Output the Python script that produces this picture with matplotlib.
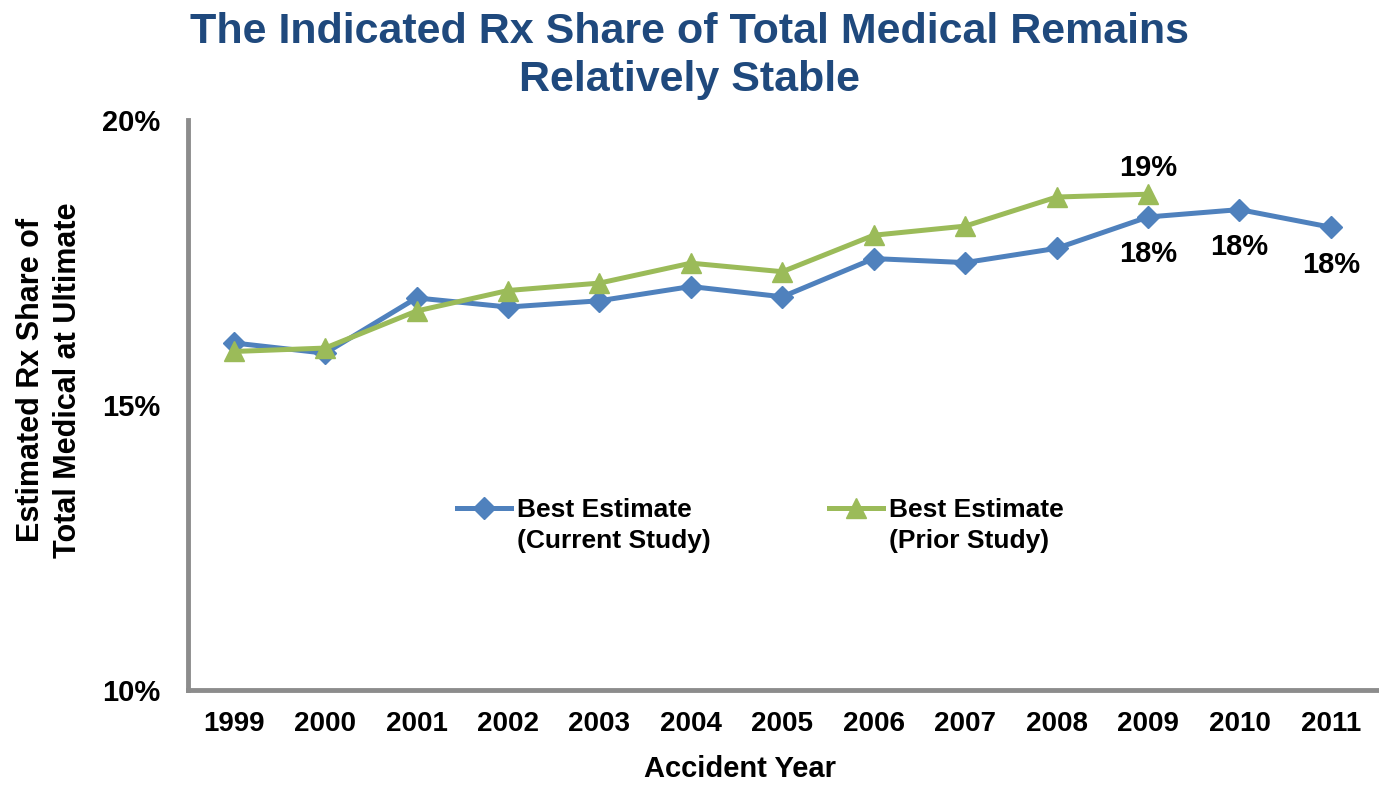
import numpy as np
import matplotlib
matplotlib.use("Agg")
import matplotlib.pyplot as plt
from matplotlib.lines import Line2D

plt.rcParams['font.family'] = ['Liberation Sans', 'DejaVu Sans']

years = ['1999', '2000', '2001', '2002', '2003', '2004', '2005',
         '2006', '2007', '2008', '2009', '2010', '2011']
current = [16.09, 15.91, 16.88, 16.72, 16.83, 17.08, 16.90,
           17.57, 17.50, 17.75, 18.30, 18.43, 18.12]
prior = [15.94, 16.00, 16.65, 17.01, 17.14, 17.49, 17.34,
         17.98, 18.14, 18.65, 18.70]
yticks = [10, 15, 20]

blue = '#4F81BD'
green = '#9BBB59'

fig = plt.figure(figsize=(13.79, 7.85), dpi=100)
ax = fig.add_axes([0.1363, 0.121, 0.862, 0.726])

x = np.arange(len(years))
h1, = ax.plot(x, current, color=blue, lw=3.6, marker='D', ms=11)
h2, = ax.plot(x[:len(prior)], prior, color=green, lw=3.6, marker='^', ms=14)

# data labels
for i in range(10, 13):
    ax.annotate(f'{current[i]:.0f}%', (x[i], current[i]), xytext=(0, -27),
                textcoords='offset points', ha='center', va='center',
                fontsize=21, fontweight='bold')
j = len(prior) - 1
ax.annotate(f'{prior[j]:.0f}%', (x[j], prior[j]), xytext=(0, 19),
            textcoords='offset points', ha='center', va='center',
            fontsize=21, fontweight='bold')

ax.set_xlim(-0.5, len(years) - 0.5)
ax.set_ylim(10, 20)
ax.set_xticks(x)
ax.set_xticklabels(years, fontsize=20, fontweight='bold')
ax.set_yticks(yticks)
ax.set_yticklabels([f'{t}%' for t in yticks], fontsize=21, fontweight='bold')
ax.tick_params(axis='x', length=0, pad=15)
ax.tick_params(axis='y', length=0, pad=20)

for s in ['top', 'right']:
    ax.spines[s].set_visible(False)
for s in ['left', 'bottom']:
    ax.spines[s].set_color('#8c8c8c')
    ax.spines[s].set_linewidth(3.5)

ax.set_xlabel('Accident Year', fontsize=21, fontweight='bold')
ax.xaxis.set_label_coords(0.464, -0.114)
ax.set_ylabel('Estimated Rx Share of\nTotal Medical at Ultimate',
              fontsize=22, fontweight='bold', linespacing=1.3)
ax.yaxis.set_label_coords(-0.088, 0.544)

blank = Line2D([], [], color='none')
ax.legend([h1, blank, h2, blank],
          ['Best Estimate', '(Current Study)', 'Best Estimate', '(Prior Study)'],
          loc='center', bbox_to_anchor=(0.4815, 0.289), ncol=2, frameon=False,
          prop={'weight': 'bold', 'size': 19}, labelspacing=0.25,
          handlelength=2.05, columnspacing=4.5, handletextpad=0.2)

fig.text(0.5, 1 - 12 / 785,
         'The Indicated Rx Share of Total Medical Remains\nRelatively Stable',
         ha='center', va='top', fontsize=31, fontweight='bold',
         color='#1F497D', linespacing=1.25)

fig.savefig('out.png', dpi=100)
